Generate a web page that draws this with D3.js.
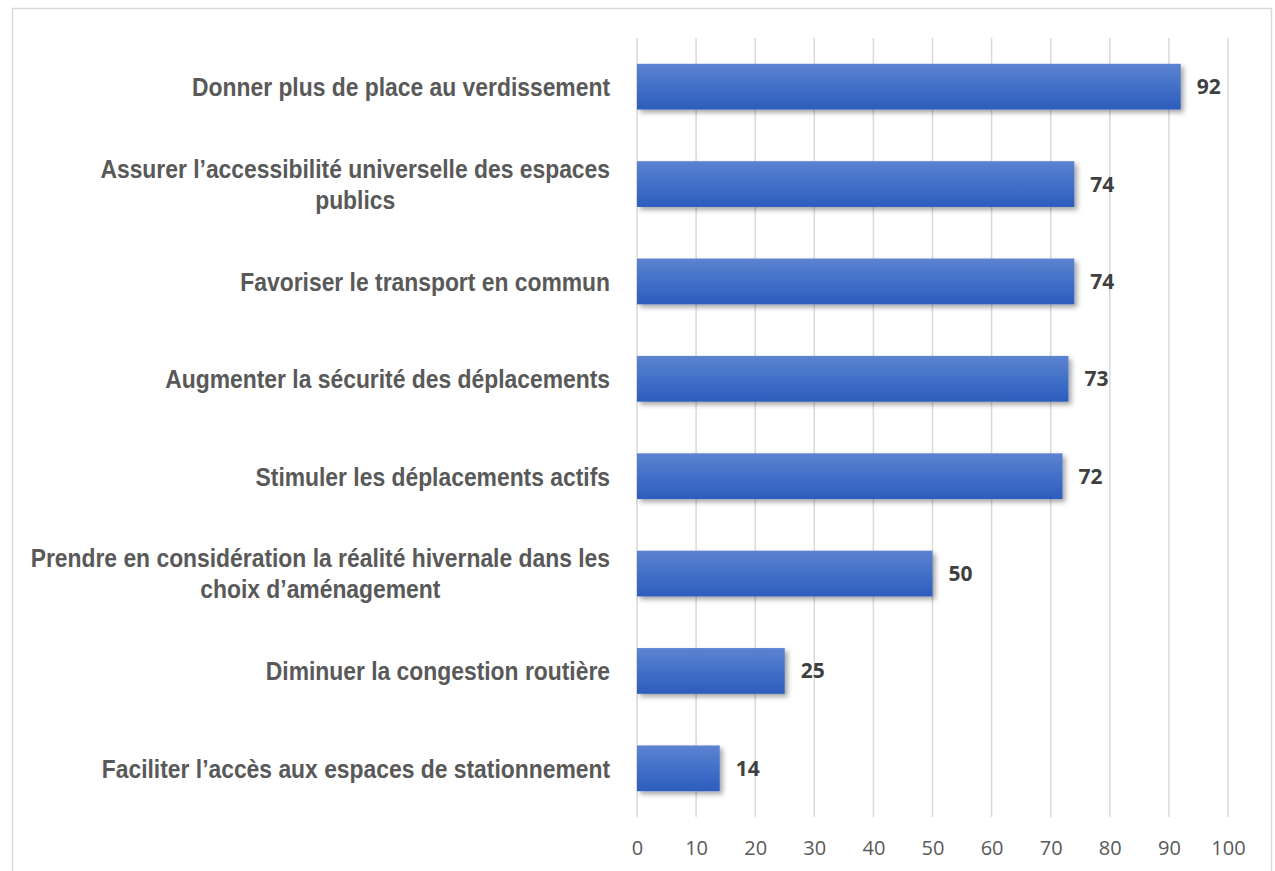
<!DOCTYPE html>
<html><head><meta charset="utf-8">
<script src="https://cdn.jsdelivr.net/npm/d3@7"></script>
<style>
html,body{margin:0;padding:0;background:#fff;}
svg{display:block;}
</style></head>
<body>
<svg id="chart" width="1275" height="871"></svg>
<script>
const categories = [
  "Donner plus de place au verdissement",
  "Assurer l’accessibilité universelle des espaces publics",
  "Favoriser le transport en commun",
  "Augmenter la sécurité des déplacements",
  "Stimuler les déplacements actifs",
  "Prendre en considération la réalité hivernale dans les choix d’aménagement",
  "Diminuer la congestion routière",
  "Faciliter l’accès aux espaces de stationnement"
];
const labelLines = [
  ["Donner plus de place au verdissement"],
  ["Assurer l’accessibilité universelle des espaces", "publics"],
  ["Favoriser le transport en commun"],
  ["Augmenter la sécurité des déplacements"],
  ["Stimuler les déplacements actifs"],
  ["Prendre en considération la réalité hivernale dans les", "choix d’aménagement"],
  ["Diminuer la congestion routière"],
  ["Faciliter l’accès aux espaces de stationnement"]
];
const values = [92, 74, 74, 73, 72, 50, 25, 14];
const tickValues = [0, 10, 20, 30, 40, 50, 60, 70, 80, 90, 100];

const svg = d3.select("#chart");
const plotLeft = 637, plotRight = 1228, plotTop = 38, plotBottom = 817;
const labelRight = 610, labelScaleX = 0.88;

// outer border
svg.append("rect").attr("x", 12.5).attr("y", 8.5).attr("width", 1259).attr("height", 880)
  .attr("fill", "none").attr("stroke", "#d9d9d9").attr("stroke-width", 1.5);

const defs = svg.append("defs");
const grad = defs.append("linearGradient").attr("id", "barGrad")
  .attr("x1", 0).attr("y1", 0).attr("x2", 0).attr("y2", 1);
grad.append("stop").attr("offset", "0%").attr("stop-color", "#5c83d1");
grad.append("stop").attr("offset", "50%").attr("stop-color", "#4270c8");
grad.append("stop").attr("offset", "100%").attr("stop-color", "#2d5dbd");
const filt = defs.append("filter").attr("id", "shadow")
  .attr("x", "-10%").attr("y", "-30%").attr("width", "130%").attr("height", "170%");
filt.append("feDropShadow").attr("dx", 3).attr("dy", 3).attr("stdDeviation", 2.5)
  .attr("flood-color", "#000").attr("flood-opacity", 0.35);

const x = d3.scaleLinear().domain([0, 100]).range([plotLeft, plotRight]);
const y = d3.scaleBand().domain(categories).range([plotTop, plotBottom]).paddingInner(0.53).paddingOuter(0.265);

// gridlines
svg.append("g").selectAll("line").data(tickValues).join("line")
  .attr("x1", d => x(d)).attr("x2", d => x(d))
  .attr("y1", plotTop).attr("y2", plotBottom)
  .attr("stroke", "#d9d9d9").attr("stroke-width", 1.5);

// x axis tick labels
const xAxis = d3.axisBottom(x).tickValues(tickValues).tickSize(0).tickPadding(0);
const gx = svg.append("g").attr("transform", `translate(0,${plotBottom})`).call(xAxis);
gx.select(".domain").remove();
gx.selectAll("text")
  .attr("dy", null).attr("y", 38)
  .attr("font-family", "'Open Sans', sans-serif").attr("font-size", 20)
  .attr("fill", "#595959");

// bars
svg.append("g").selectAll("rect").data(values).join("rect")
  .attr("x", x(0))
  .attr("y", (d, i) => y(categories[i]))
  .attr("width", d => x(d) - x(0))
  .attr("height", y.bandwidth())
  .attr("fill", "url(#barGrad)")
  .attr("filter", "url(#shadow)");

// data labels
svg.append("g").selectAll("text").data(values).join("text")
  .attr("x", d => x(d) + 16)
  .attr("y", (d, i) => y(categories[i]) + y.bandwidth() / 2)
  .attr("dy", "0.36em")
  .attr("font-family", "'Open Sans', sans-serif").attr("font-weight", "bold")
  .attr("font-size", 21).attr("fill", "#404040")
  .text(d => d);

// category labels (condensed bold sans, right-aligned)
const gy = svg.append("g");
categories.forEach((c, i) => {
  const lines = labelLines[i];
  const cy = y(c) + y.bandwidth() / 2;
  const lh = 31;
  const t = gy.append("g")
    .attr("transform", `translate(${labelRight},0) scale(${labelScaleX},1)`)
    .append("text")
    .attr("text-anchor", "end")
    .attr("font-family", "'Liberation Sans', Arial, sans-serif")
    .attr("font-weight", "bold").attr("font-size", 26).attr("fill", "#595959");
  lines.forEach((ln, k) => {
    t.append("tspan")
      .attr("x", 0)
      .attr("y", cy + (k - (lines.length - 1) / 2) * lh)
      .attr("dy", "0.36em")
      .text(ln);
  });
});
gy.selectAll("text").each(function() {
  const tsp = d3.select(this).selectAll("tspan").nodes();
  if (tsp.length > 1) {
    const w0 = tsp[0].getComputedTextLength();
    for (let k = 1; k < tsp.length; k++) {
      d3.select(tsp[k]).attr("text-anchor", "middle").attr("x", -w0 / 2);
    }
  }
});
</script>
</body></html>
